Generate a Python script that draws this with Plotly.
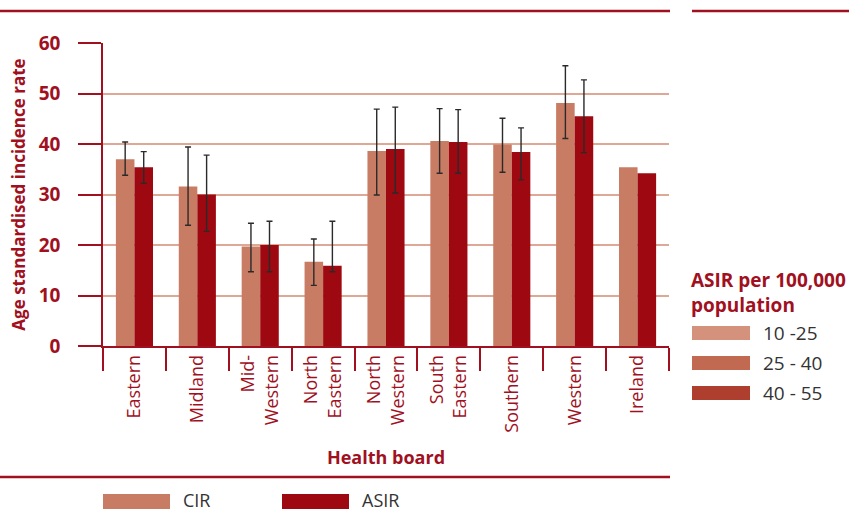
import plotly.graph_objects as go

# ---- data ----
boards = ["Eastern", "Midland", "Mid-<br>Western", "North<br>Eastern", "North<br>Western",
          "South<br>Eastern", "Southern", "Western", "Ireland"]
cir = [37.0, 31.6, 19.7, 16.7, 38.6, 40.6, 39.9, 48.1, 35.4]
cir_hi = [40.4, 39.4, 24.3, 21.2, 46.9, 47.0, 45.1, 55.5, None]
cir_lo = [33.8, 23.9, 14.7, 12.0, 29.9, 34.2, 34.4, 41.1, None]
asir = [35.4, 30.0, 20.0, 15.9, 39.0, 40.4, 38.4, 45.5, 34.2]
asir_hi = [38.5, 37.8, 24.7, 24.7, 47.3, 46.8, 43.2, 52.7, None]
asir_lo = [32.2, 22.7, 14.7, 14.7, 30.3, 34.2, 32.9, 38.3, None]
map_classes = ["10 -25", "25 - 40", "40 - 55"]
map_colors = ["#D4917B", "#C26952", "#AE3E2D"]
y_ticks = [0, 10, 20, 30, 40, 50, 60]

DARK = "#A0101E"
CIR_C = "#C97C64"
ASIR_C = "#9E0810"
GRID = "#DDA896"
TXT = "#333333"
FONT = "Open Sans"

def errs(v, hi, lo):
    # "NaN" strings make plotly.js skip the error bar for that point
    plus = [round(h - x, 3) if h is not None else "NaN" for x, h in zip(v, hi)]
    minus = [round(x - l, 3) if l is not None else "NaN" for x, l in zip(v, lo)]
    return plus, minus

cp, cm = errs(cir, cir_hi, cir_lo)
ap, am = errs(asir, asir_hi, asir_lo)

eb_style = dict(type="data", symmetric=False, color="#2a2a2a", thickness=1.4, width=3)

fig = go.Figure()
fig.add_trace(go.Bar(x=boards, y=cir, name="CIR", marker=dict(color=CIR_C, line=dict(width=0)),
                     error_y=dict(array=cp, arrayminus=cm, **eb_style), showlegend=False))
fig.add_trace(go.Bar(x=boards, y=asir, name="ASIR", marker=dict(color=ASIR_C, line=dict(width=0)),
                     error_y=dict(array=ap, arrayminus=am, **eb_style), showlegend=False))

L, R, T, B = 103, 180, 43, 166
W, H = 849, 512
PW, PH = W - L - R, H - T - B

def px(x):
    return (x - L) / PW

def py(y):
    return (H - B - y) / PH

shapes = []
annotations = []
# top rules
shapes.append(dict(type="line", xref="paper", yref="paper", x0=px(0), x1=px(670), y0=py(11), y1=py(11),
                   line=dict(color=DARK, width=2.5)))
shapes.append(dict(type="line", xref="paper", yref="paper", x0=px(692), x1=px(849), y0=py(11), y1=py(11),
                   line=dict(color=DARK, width=2.5)))
# bottom rule
shapes.append(dict(type="line", xref="paper", yref="paper", x0=px(0), x1=px(670), y0=py(477), y1=py(477),
                   line=dict(color=DARK, width=2.5)))

# bottom legend
for (x0, x1, tx, col, lab) in [(103, 170, 181, CIR_C, "CIR"), (282, 349, 360, ASIR_C, "ASIR")]:
    shapes.append(dict(type="rect", xref="paper", yref="paper", x0=px(x0), x1=px(x1), y0=py(509), y1=py(494),
                       fillcolor=col, line=dict(width=0)))
    annotations.append(dict(text=lab, xref="paper", yref="paper", x=px(tx), y=py(500), xanchor="left",
                            yanchor="middle", showarrow=False, font=dict(family=FONT, size=18, color=TXT)))

# map-class legend on the right
annotations.append(dict(text="<b>ASIR per 100,000<br>population</b>", xref="paper", yref="paper",
                        x=px(689), y=py(292), xanchor="left", yanchor="middle", align="left",
                        showarrow=False, font=dict(family=FONT, size=19, color=DARK)))
for i, (lab, col) in enumerate(zip(map_classes, map_colors)):
    cy = 333 + 30 * i
    shapes.append(dict(type="rect", xref="paper", yref="paper", x0=px(692), x1=px(750),
                       y0=py(cy + 7), y1=py(cy - 7), fillcolor=col, line=dict(width=0)))
    annotations.append(dict(text=lab, xref="paper", yref="paper", x=px(761), y=py(cy), xanchor="left",
                            yanchor="middle", showarrow=False, font=dict(family=FONT, size=19, color=TXT)))

fig.update_layout(
    width=W, height=H,
    margin=dict(l=L, r=R, t=T, b=B, pad=0),
    paper_bgcolor="white", plot_bgcolor="white",
    barmode="group", bargap=0.41, bargroupgap=0,
    font=dict(family=FONT, color=DARK),
    shapes=shapes, annotations=annotations,
    xaxis=dict(
        tickson="boundaries", ticks="outside", ticklen=23, tickwidth=1.5, tickcolor=DARK,
        showline=True, linecolor=DARK, linewidth=1.5,
        tickangle=-90, tickfont=dict(family=FONT, size=18, color=DARK),
        showgrid=False,
        title=dict(text="<b>Health board</b>", font=dict(family=FONT, size=18, color=DARK), standoff=20),
    ),
    yaxis=dict(
        range=[0, 60], tickvals=y_ticks, ticks="outside", ticklen=23, tickwidth=1.5, tickcolor=DARK,
        showline=True, linecolor=DARK, linewidth=1.5,
        showgrid=True, gridcolor=GRID, gridwidth=1.5, zeroline=False,
        tickfont=dict(family=FONT, size=19, color=DARK, weight="bold"),
        ticklabelstandoff=14,
        title=dict(text="<b>Age standardised incidence rate</b>", font=dict(family=FONT, size=17, color=DARK),
                   standoff=9),
    ),
)

fig.write_html("out.html", config={"displayModeBar": False},
               post_script="document.body.style.margin='0';document.body.style.overflow='hidden';")
